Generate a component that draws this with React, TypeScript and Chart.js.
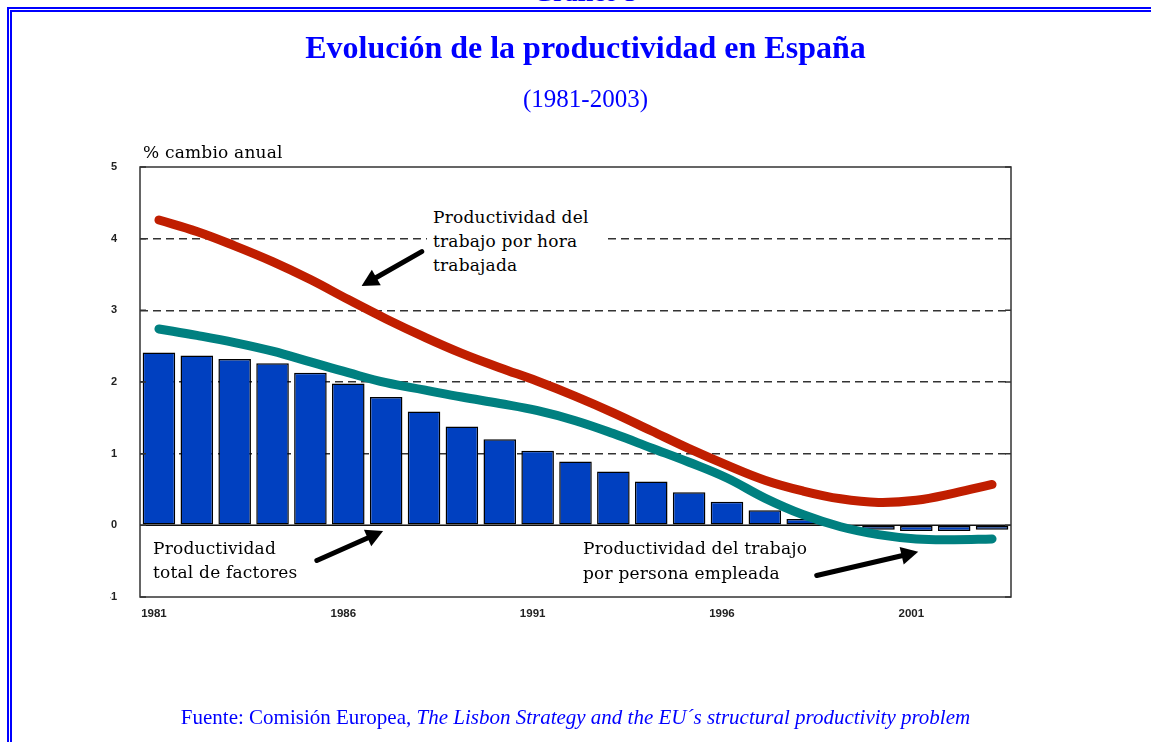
import React, { useEffect, useRef } from "react";
import { Chart, registerables } from "chart.js";

Chart.register(...registerables);

const years = [
  "1981", "1982", "1983", "1984", "1985", "1986", "1987", "1988", "1989", "1990",
  "1991", "1992", "1993", "1994", "1995", "1996", "1997", "1998", "1999", "2000",
  "2001", "2002", "2003",
];
const xTickYears = ["1981", "1986", "1991", "1996", "2001"];

// Productividad total de factores (bars)
const ptfValues = [
  2.41, 2.37, 2.32, 2.26, 2.13, 1.98, 1.79, 1.59, 1.38, 1.2,
  1.04, 0.89, 0.75, 0.61, 0.46, 0.33, 0.21, 0.09, 0.01, -0.06,
  -0.08, -0.08, -0.06,
];
// Productividad del trabajo por hora trabajada (red)
const porHoraValues = [
  4.26, 4.1, 3.9, 3.68, 3.43, 3.15, 2.88, 2.63, 2.4, 2.2,
  2.01, 1.8, 1.57, 1.32, 1.07, 0.84, 0.63, 0.48, 0.37, 0.32,
  0.35, 0.45, 0.57,
];
// Productividad del trabajo por persona empleada (teal)
const porPersonaValues = [
  2.74, 2.65, 2.55, 2.43, 2.28, 2.13, 1.99, 1.89, 1.79, 1.7,
  1.6, 1.46, 1.28, 1.08, 0.88, 0.66, 0.38, 0.15, -0.02, -0.13,
  -0.19, -0.2, -0.19,
];
const yMin = -1;
const yMax = 5;

// arrows in data coordinates: [fromIndex, fromValue, toIndex, toValue]
const arrows: number[][] = [
  [6.94, 3.82, 5.35, 3.34],
  [4.17, -0.49, 5.92, -0.08],
  [17.37, -0.7, 20.05, -0.37],
];

const decorPlugin = {
  id: "decor",
  beforeDatasetsDraw(chart: any) {
    const { ctx, chartArea, scales } = chart;
    const y0 = scales.y.getPixelForValue(0);
    ctx.save();
    ctx.strokeStyle = "#111";
    ctx.lineWidth = 1.5;
    ctx.beginPath();
    ctx.moveTo(chartArea.left, y0);
    ctx.lineTo(chartArea.right, y0);
    ctx.stroke();
    ctx.restore();
  },
  afterDatasetsDraw(chart: any) {
    const { ctx, scales } = chart;
    ctx.save();
    ctx.strokeStyle = "#000";
    ctx.fillStyle = "#000";
    ctx.lineWidth = 5;
    ctx.lineCap = "round";
    arrows.forEach((a) => {
      const x1 = scales.x.getPixelForValue(a[0]);
      const y1 = scales.y.getPixelForValue(a[1]);
      const x2 = scales.x.getPixelForValue(a[2]);
      const y2 = scales.y.getPixelForValue(a[3]);
      const ang = Math.atan2(y2 - y1, x2 - x1);
      const headLen = 17;
      const headW = 9;
      const bx = x2 - headLen * Math.cos(ang);
      const by = y2 - headLen * Math.sin(ang);
      ctx.beginPath();
      ctx.moveTo(x1, y1);
      ctx.lineTo(bx, by);
      ctx.stroke();
      ctx.beginPath();
      ctx.moveTo(x2, y2);
      ctx.lineTo(bx + headW * Math.sin(ang), by - headW * Math.cos(ang));
      ctx.lineTo(bx - headW * Math.sin(ang), by + headW * Math.cos(ang));
      ctx.closePath();
      ctx.fill();
    });
    ctx.restore();
  },
  afterDraw(chart: any) {
    const { ctx, chartArea, scales } = chart;
    ctx.save();
    ctx.strokeStyle = "#333";
    ctx.lineWidth = 1.5;
    ctx.strokeRect(chartArea.left, chartArea.top, chartArea.right - chartArea.left, chartArea.bottom - chartArea.top);
    scales.y.ticks.forEach((t: any) => {
      const yy = scales.y.getPixelForValue(t.value);
      ctx.beginPath();
      ctx.moveTo(chartArea.left, yy);
      ctx.lineTo(chartArea.left + 6, yy);
      ctx.moveTo(chartArea.right, yy);
      ctx.lineTo(chartArea.right - 6, yy);
      ctx.stroke();
    });
    ctx.restore();
  },
};

const serif = "'DejaVu Serif', serif";
const times = "'Liberation Serif', 'Times New Roman', serif";
const annot = { fontFamily: serif, fontSize: 17, letterSpacing: "0.2px", color: "#000" };

export default function App() {
  const canvasRef = useRef<HTMLCanvasElement | null>(null);

  useEffect(() => {
    if (!canvasRef.current) return;
    const chart = new Chart(canvasRef.current, {
      type: "bar",
      data: {
        labels: years,
        datasets: [
          {
            type: "line",
            label: "Productividad del trabajo por hora trabajada",
            data: porHoraValues,
            borderColor: "#c01e00",
            borderWidth: 9,
            tension: 0.4,
            pointRadius: 0,
            borderCapStyle: "round",
            fill: false,
            order: 0,
          } as any,
          {
            type: "line",
            label: "Productividad del trabajo por persona empleada",
            data: porPersonaValues,
            borderColor: "#008080",
            borderWidth: 9,
            tension: 0.4,
            pointRadius: 0,
            borderCapStyle: "round",
            fill: false,
            order: 1,
          } as any,
          {
            type: "bar",
            label: "Productividad total de factores",
            data: ptfValues,
            backgroundColor: "#0040c0",
            borderColor: "#000",
            borderWidth: 1.5,
            borderSkipped: false,
            barPercentage: 0.86,
            categoryPercentage: 1,
            order: 2,
          } as any,
        ],
      },
      options: {
        responsive: false,
        animation: false,
        layout: { padding: { left: 110, right: 140, top: 167, bottom: 105 } },
        plugins: { legend: { display: false }, tooltip: { enabled: false }, title: { display: false } },
        scales: {
          x: {
            grid: { display: false, drawTicks: false },
            border: { display: false },
            ticks: {
              autoSkip: false,
              maxRotation: 0,
              padding: 10,
              labelOffset: -5,
              color: "#222",
              font: { family: "'Liberation Sans', Arial, sans-serif", size: 11.5, weight: "bold" },
              callback: (_v: any, i: number) => (xTickYears.includes(years[i]) ? years[i] : ""),
            },
            afterFit: (s: any) => {
              s.height = 40;
            },
          },
          y: {
            min: yMin,
            max: yMax,
            grid: {
              drawTicks: false,
              lineWidth: 1.5,
              color: (c: any) => (c.tick && c.tick.value > 0 && c.tick.value < 5 ? "#333" : "rgba(0,0,0,0)"),
            },
            border: { display: false, dash: [8, 5] },
            ticks: {
              stepSize: 1,
              padding: 23,
              color: "#222",
              font: { family: "'Liberation Sans', Arial, sans-serif", size: 11, weight: "bold" },
              callback: (v: any) => String(Math.round(Number(v))),
            },
            afterFit: (s: any) => {
              s.width = 30;
            },
          },
        },
      },
      plugins: [decorPlugin],
    });
    return () => chart.destroy();
  }, []);

  return (
    <div style={{ position: "fixed", left: 0, top: 0, width: 1151, height: 742, overflow: "hidden", background: "#fff" }}>
      <div
        style={{
          position: "absolute",
          left: 0,
          width: 1170,
          top: -20,
          textAlign: "center",
          fontFamily: times,
          fontWeight: "bold",
          fontSize: 26,
          lineHeight: "26px",
          color: "#0000ff",
        }}
      >
        Gráfico 5
      </div>
      <div
        style={{
          position: "absolute",
          left: 7,
          top: 7,
          width: 1300,
          height: 900,
          border: "5px double #0000ff",
          background: "transparent",
        }}
      />
      <canvas ref={canvasRef} width={1151} height={742} style={{ position: "absolute", left: 0, top: 0 }} />
      <div
        style={{
          position: "absolute",
          left: 0,
          width: 1171,
          top: 31,
          textAlign: "center",
          fontFamily: times,
          fontWeight: "bold",
          fontSize: 32,
          lineHeight: "32px",
          color: "#0000ff",
        }}
      >
        Evolución de la productividad en España
      </div>
      <div
        style={{
          position: "absolute",
          left: 0,
          width: 1171,
          top: 86,
          textAlign: "center",
          fontFamily: times,
          fontSize: 25,
          lineHeight: "25px",
          color: "#0000ff",
        }}
      >
        (1981-2003)
      </div>
      <div style={{ position: "absolute", left: 143, top: 141, lineHeight: "22px", ...annot }}>% cambio anual</div>
      <div
        style={{
          position: "absolute",
          left: 427,
          top: 205,
          width: 172,
          paddingLeft: 6,
          background: "#fff",
          lineHeight: "24px",
          ...annot,
        }}
      >
        Productividad del
        <br />
        trabajo por hora
        <br />
        trabajada
      </div>
      <div style={{ position: "absolute", left: 153, top: 536, lineHeight: "24px", ...annot }}>
        Productividad
        <br />
        total de factores
      </div>
      <div style={{ position: "absolute", left: 583, top: 536, lineHeight: "25px", ...annot }}>
        Productividad del trabajo
        <br />
        por persona empleada
      </div>
      <div
        style={{
          position: "absolute",
          left: 0,
          width: 1151,
          top: 707,
          textAlign: "center",
          fontFamily: times,
          fontSize: 21,
          lineHeight: "21px",
          color: "#0000ff",
        }}
      >
        Fuente: Comisión Europea, <i>The Lisbon Strategy and the EU´s structural productivity problem</i>
      </div>
    </div>
  );
}
